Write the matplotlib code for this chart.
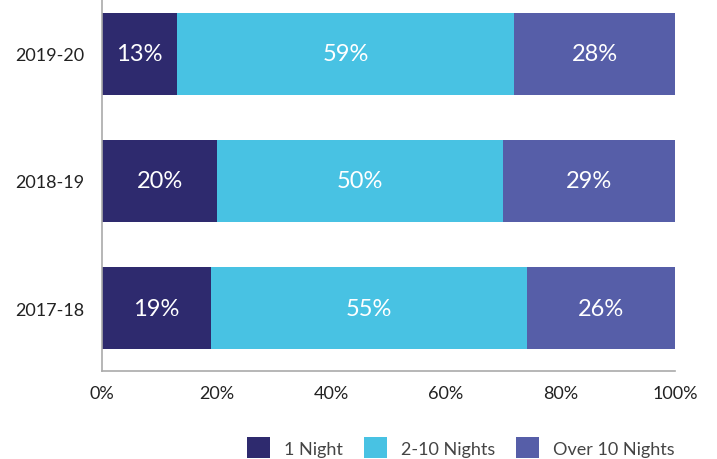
import matplotlib
matplotlib.use('Agg')
import matplotlib.pyplot as plt
import numpy as np

plt.rcParams['font.family'] = ['Lato', 'DejaVu Sans']

years = ['2017-18', '2018-19', '2019-20']
one_night = [19.0, 20.1, 13.1]
two_to_ten = [55.2, 49.9, 58.8]
over_ten = [25.8, 30.0, 28.1]
labels = {
    '1 Night': ['19%', '20%', '13%'],
    '2-10 Nights': ['55%', '50%', '59%'],
    'Over 10 Nights': ['26%', '29%', '28%'],
}
series = {'1 Night': one_night, '2-10 Nights': two_to_ten, 'Over 10 Nights': over_ten}
colors = ['#2e2a6e', '#48c2e3', '#565ea8']

fig = plt.figure(figsize=(7.17, 4.60), dpi=100)
ax = fig.add_axes([102 / 717, 1 - 372 / 460, (675 - 102) / 717, 372 / 460])

y = np.arange(len(years))
left = np.zeros(len(years))
for (name, vals), col in zip(series.items(), colors):
    bars = ax.barh(y, vals, left=left, height=0.646, color=col, label=name)
    for b, txt in zip(bars, labels[name]):
        ax.text(b.get_x() + b.get_width() / 2, b.get_y() + b.get_height() / 2, txt,
                ha='center', va='center', color='white', fontsize=17)
    left += np.array(vals)

ax.set_xlim(0, 100)
ax.set_ylim(-0.496, 2.433)
ax.set_yticks(y)
ax.set_yticklabels(years)
ax.set_xticks(np.arange(0, 101, 20))
ax.set_xticklabels([f'{v}%' for v in range(0, 101, 20)])
ax.tick_params(length=0, labelsize=13, colors='#222222', pad=10)
ax.tick_params(axis='y', pad=13)
for s in ['top', 'right']:
    ax.spines[s].set_visible(False)
for s in ['left', 'bottom']:
    ax.spines[s].set_color('#aaaaaa')
    ax.spines[s].set_linewidth(1.2)

fig.legend(loc='lower center', bbox_to_anchor=(0.643, -0.033), ncol=3, frameon=False,
           fontsize=13, handlelength=1.25, handleheight=1.4, columnspacing=1.17,
           handletextpad=0.8, labelcolor='#444444')

fig.savefig('out.png', dpi=100)
